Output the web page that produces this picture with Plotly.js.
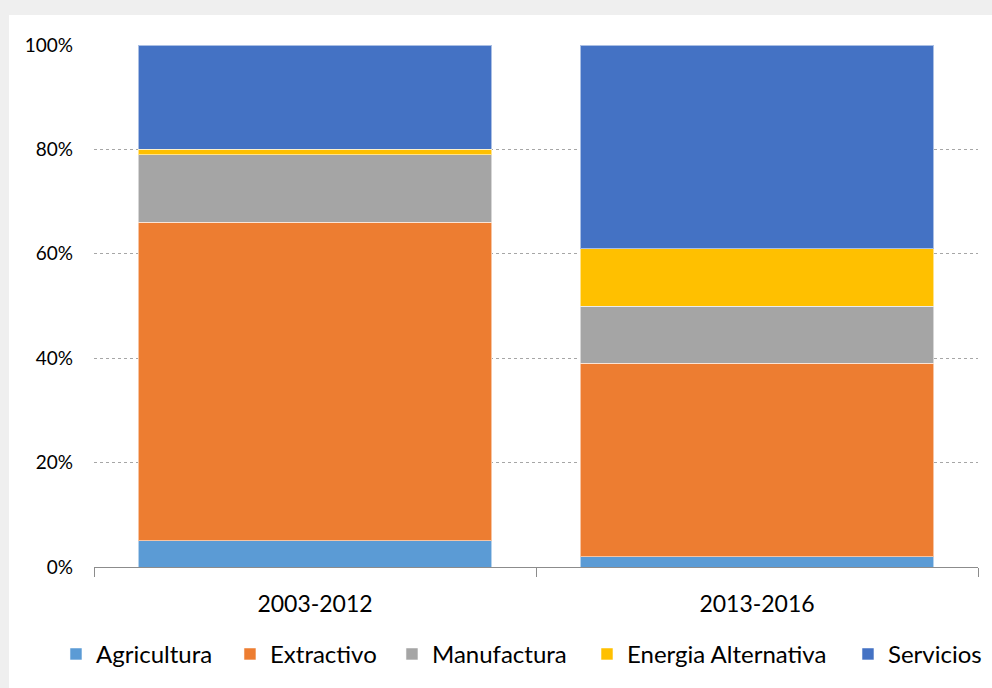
<!DOCTYPE html>
<html>
<head>
<meta charset="utf-8">
<script src="https://cdn.plot.ly/plotly-3.0.1.min.js"></script>
<style>
  html, body { margin: 0; padding: 0; background: #efefef; width: 992px; height: 688px; overflow: hidden; }
  #chart { position: absolute; left: 9px; top: 15px; width: 983px; height: 673px; background: #fff; }
</style>
</head>
<body>
<div id="chart"></div>
<script>
// ── Data (percent share per period) ─────────────────────────────────────────
const PERIODS      = ['2003-2012', '2013-2016'];
const AGRICULTURA  = [5, 2];
const EXTRACTIVO   = [61, 37];
const MANUFACTURA  = [13, 11];
const ENERGIA_ALT  = [1, 11];
const SERVICIOS    = [20, 39];
const Y_TICKS      = [0, 20, 40, 60, 80, 100];

const SERIES = [
  { name: 'Agricultura',         y: AGRICULTURA, color: '#5B9BD5' },
  { name: 'Extractivo',          y: EXTRACTIVO,  color: '#ED7D31' },
  { name: 'Manufactura',         y: MANUFACTURA, color: '#A5A5A5' },
  { name: 'Energia Alternativa', y: ENERGIA_ALT, color: '#FFC000' },
  { name: 'Servicios',           y: SERVICIOS,   color: '#4472C4' },
];

const FONT = 'Lato, "Open Sans", sans-serif';

// one legend per series so each entry can sit where the original puts it
// (Excel-style legend: uneven spacing between entries)
const LEGEND_X = [0.0478, 0.2248, 0.3896, 0.588, 0.8535];

const traces = SERIES.map((s, k) => ({
  type: 'bar', x: PERIODS, y: s.y, name: s.name,
  legend: k === 0 ? 'legend' : 'legend' + (k + 1),
  marker: { color: s.color, line: { color: 'rgba(255,255,255,0.55)', width: 1 } },
  hoverinfo: 'x+y+name',
}));

const layout = {
  barmode: 'stack',
  bargap: 0.2,
  paper_bgcolor: '#ffffff',
  plot_bgcolor:  '#ffffff',
  font:   { family: FONT, color: '#000000', size: 18 },
  margin: { l: 85, r: 14, t: 30, b: 121, autoexpand: false },
  showlegend: true,
  xaxis: {
    type: 'category',
    tickson: 'boundaries',
    ticks: 'outside', ticklen: 9, tickcolor: '#8c8c8c', tickwidth: 1,
    showline: true, linecolor: '#8c8c8c', linewidth: 1,
    showgrid: false,
    ticklabelstandoff: 16,
    tickfont: { family: FONT, size: 23, color: '#000' },
    fixedrange: true,
  },
  yaxis: {
    range: [0, 100],
    tickvals: Y_TICKS,
    ticktext: Y_TICKS.map(v => v + '%'),
    showgrid: true, gridcolor: '#a6a6a6', griddash: 'dot', gridwidth: 1,
    zeroline: false, showline: false, ticks: '',
    ticklabelstandoff: 20,
    tickfont: { family: FONT, size: 19, color: '#000' },
    fixedrange: true,
  },
};

LEGEND_X.forEach((lx, k) => {
  layout[k === 0 ? 'legend' : 'legend' + (k + 1)] = {
    orientation: 'h',
    xref: 'container', x: lx, xanchor: 'left',
    yref: 'container', y: 0.05, yanchor: 'middle',
    font: { family: FONT, size: 24, color: '#000' },
    itemwidth: 30, bgcolor: 'rgba(0,0,0,0)',
  };
});

Plotly.newPlot('chart', traces, layout, { displayModeBar: false, staticPlot: true });
</script>
</body>
</html>
